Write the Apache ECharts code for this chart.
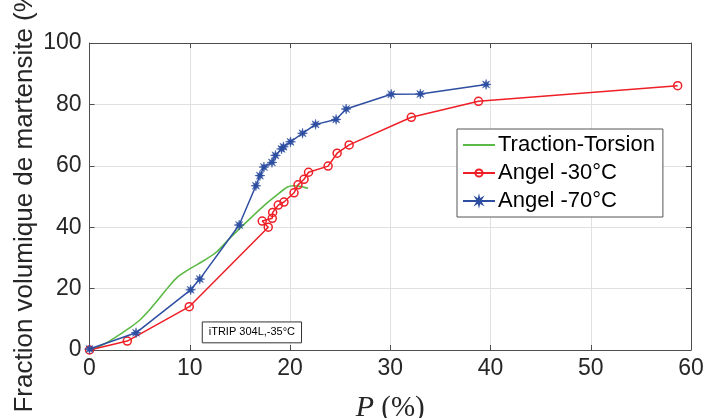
<!DOCTYPE html>
<html>
<head>
<meta charset="utf-8">
<script src="https://cdn.jsdelivr.net/npm/echarts@6/dist/echarts.min.js"></script>
<style>html,body{margin:0;padding:0;background:#fff;}#c{width:708px;height:418px;}</style>
</head>
<body>
<div id="c"></div>
<script>
// ---- data ----
var xTicks = [0, 10, 20, 30, 40, 50, 60];
var yTicks = [0, 20, 40, 60, 80, 100];
var seriesNames = ['Traction-Torsion', 'Angel -30°C', 'Angel -70°C'];

var tractionP = [0, 1, 2, 3, 4, 5, 6, 7, 8, 8.8, 9.5, 10.3, 11.5, 12.7, 14, 15.7, 17.3, 18.7, 19.7, 20.3, 21, 21.8];
var tractionF = [0, 1.2, 2.9, 5.0, 7.2, 9.7, 13.1, 17, 21, 23.8, 25.4, 27, 29.3, 32, 36.4, 41.8, 46.7, 50.5, 53, 53.5, 53.3, 52.7];

var angel30P = [0, 3.77, 9.95, 17.83, 17.23, 18.23, 18.27, 18.83, 19.4, 20.4, 20.8, 21.4, 21.85, 23.8, 24.7, 25.9, 32.1, 38.8, 58.67];
var angel30F = [0, 2.9, 14.1, 40.0, 42.0, 42.9, 44.8, 47.2, 48.2, 51.2, 53.8, 55.6, 57.9, 59.9, 64.1, 66.8, 75.8, 81.0, 86.1];

var angel70P = [0, 4.64, 10.09, 11.0, 14.93, 16.6, 17.0, 17.4, 18.2, 18.55, 19.16, 19.35, 20.05, 21.25, 22.55, 24.6, 25.6, 30.1, 33.0, 39.56];
var angel70F = [0.3, 5.6, 19.6, 23.1, 40.7, 53.5, 56.8, 59.6, 61.1, 63.4, 65.5, 66.2, 67.8, 70.6, 73.5, 75.1, 78.5, 83.3, 83.4, 86.5];

var annotationText = 'iTRIP 304L,-35°C';

function pairs(xs, ys) { return xs.map(function (x, i) { return [x, ys[i]]; }); }

// asterisk-like star symbol
function starPath() {
  var pts = [];
  for (var k = 0; k < 16; k++) {
    var a = k * Math.PI / 8 - Math.PI / 2;
    var r = (k % 2 === 0) ? 10 : 4;
    pts.push((r * Math.cos(a)).toFixed(2) + ',' + (r * Math.sin(a)).toFixed(2));
  }
  return 'path://M' + pts.join(' L') + ' Z';
}

var green = '#5cb947', red = '#ee1f26', blue = '#2d4ea1';
var axisCol = '#4d4d4d', gridCol = '#e0e0e0', textCol = '#262626';
var font = 'Liberation Sans, Arial, sans-serif';
var serif = 'Liberation Serif, DejaVu Serif, serif';

var chart = echarts.init(document.getElementById('c'), null, {renderer: 'canvas'});
var xMin = xTicks[0], xMax = xTicks[xTicks.length - 1], xInt = xTicks[1] - xTicks[0];
var yMin = yTicks[0], yMax = yTicks[yTicks.length - 1], yInt = yTicks[1] - yTicks[0];

var option = {
  animation: false,
  backgroundColor: '#fff',
  grid: {left: 89.5, right: 17, top: 43, bottom: 68, containLabel: false, outerBoundsMode: 'none'},
  legend: {
    orient: 'vertical',
    left: 457, top: 129,
    padding: [5, 8, 5, 5],
    itemGap: 6,
    itemWidth: 32, itemHeight: 9,
    borderColor: '#555', borderWidth: 1,
    backgroundColor: '#fff',
    textStyle: {fontFamily: font, fontSize: 22, color: '#000', padding: [0, 0, 0, -2], lineHeight: 22},
    data: [
      {name: seriesNames[0], itemStyle: {opacity: 0}},
      {name: seriesNames[1]},
      {name: seriesNames[2]}
    ]
  },
  xAxis: [{
    type: 'value', min: xMin, max: xMax, interval: xInt,
    name: '{i|P} (%)', nameLocation: 'middle', nameGap: 43, nameMoveOverlap: false,
    nameTextStyle: {fontFamily: serif, fontSize: 29, color: textCol,
      rich: {i: {fontFamily: serif, fontStyle: 'italic', fontSize: 30, color: textCol}}},
    axisLine: {show: true, onZero: false, lineStyle: {color: axisCol, width: 1}},
    axisTick: {show: true, inside: true, length: 5, lineStyle: {color: axisCol}},
    axisLabel: {fontFamily: font, fontSize: 23, color: textCol, margin: 7},
    splitLine: {show: true, lineStyle: {color: gridCol, width: 1}}
  }, {
    type: 'value', position: 'top', min: xMin, max: xMax, interval: xInt,
    axisLine: {show: true, onZero: false, lineStyle: {color: axisCol, width: 1}},
    axisTick: {show: true, inside: true, length: 5, lineStyle: {color: axisCol}},
    axisLabel: {show: false}, splitLine: {show: false}
  }],
  yAxis: [{
    type: 'value', min: yMin, max: yMax, interval: yInt,
    name: 'Fraction volumique de martensite (%)', nameLocation: 'middle', nameGap: 52, nameMoveOverlap: false,
    nameTextStyle: {fontFamily: font, fontSize: 26, color: textCol},
    axisLine: {show: true, onZero: false, lineStyle: {color: axisCol, width: 1}},
    axisTick: {show: true, inside: true, length: 5, lineStyle: {color: axisCol}},
    axisLabel: {fontFamily: font, fontSize: 23, color: textCol, margin: 8},
    splitLine: {show: true, lineStyle: {color: gridCol, width: 1}}
  }, {
    type: 'value', position: 'right', min: yMin, max: yMax, interval: yInt,
    axisLine: {show: true, onZero: false, lineStyle: {color: axisCol, width: 1}},
    axisTick: {show: true, inside: true, length: 5, lineStyle: {color: axisCol}},
    axisLabel: {show: false}, splitLine: {show: false}
  }],
  series: [{
    name: seriesNames[0], type: 'line', data: pairs(tractionP, tractionF),
    showSymbol: false, symbol: 'none', smooth: 0.25, z: 2,
    lineStyle: {color: green, width: 1.6}, itemStyle: {color: green}
  }, {
    name: seriesNames[1], type: 'line', data: pairs(angel30P, angel30F),
    symbol: 'circle', symbolSize: 8, z: 3,
    lineStyle: {color: red, width: 1.5},
    itemStyle: {color: 'rgba(255,255,255,0)', borderColor: red, borderWidth: 1.5}
  }, {
    name: seriesNames[2], type: 'line', data: pairs(angel70P, angel70F),
    symbol: starPath(), symbolSize: 10, z: 4,
    lineStyle: {color: blue, width: 1.5},
    itemStyle: {color: blue, borderColor: blue, borderWidth: 0.5}
  }]
};
chart.setOption(option);

// annotation box anchored on data coordinates
var p0 = chart.convertToPixel({gridIndex: 0}, [11.2, 9.3]);
var p1 = chart.convertToPixel({gridIndex: 0}, [21.1, 2.5]);
chart.setOption({
  graphic: [{
    type: 'group', left: p0[0], top: p0[1],
    children: [{
      type: 'rect', shape: {x: 0, y: 0, width: p1[0] - p0[0], height: p1[1] - p0[1]},
      style: {fill: '#fff', stroke: '#333', lineWidth: 1}
    }, {
      type: 'text', x: (p1[0] - p0[0]) / 2, y: (p1[1] - p0[1]) / 2,
      style: {text: annotationText, fontFamily: font, fontSize: 11, fill: '#000', align: 'center', verticalAlign: 'middle'}
    }]
  }]
});
</script>
</body>
</html>
